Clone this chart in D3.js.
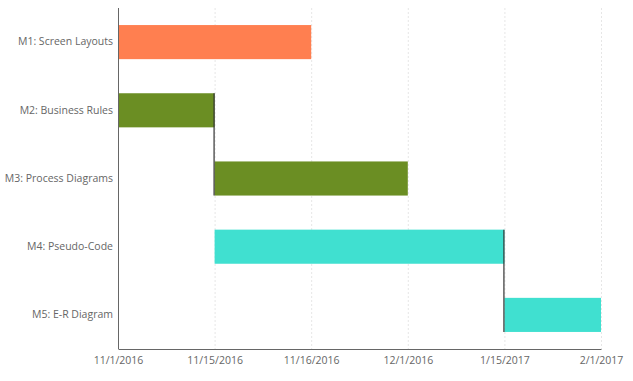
<!DOCTYPE html>
<html>
<head>
<meta charset="utf-8">
<script src="https://cdn.jsdelivr.net/npm/d3@7"></script>
<style>
body { margin: 0; background: #fff; }
text { font-family: "Open Sans", "Noto Sans", sans-serif; }
</style>
</head>
<body>
<div id="gantt"></div>
<script>
// tick labels of the x axis (evenly spaced categories)
var dates = ["11/1/2016", "11/15/2016", "11/16/2016", "12/1/2016", "1/15/2017", "2/1/2017"];
var tasks = ["M1: Screen Layouts", "M2: Business Rules", "M3: Process Diagrams", "M4: Pseudo-Code", "M5: E-R Diagram"];
var starts = ["11/1/2016", "11/1/2016", "11/15/2016", "11/15/2016", "1/15/2017"];
var ends = ["11/16/2016", "11/15/2016", "12/1/2016", "1/15/2017", "2/1/2017"];
var colors = ["#FF7F50", "#6B8E23", "#6B8E23", "#40E0D0", "#40E0D0"];
// dependencies: [from task, to task]
var links = [[1, 2], [3, 4]];

var margin = {top: 8, right: 32, bottom: 32, left: 118},
width = 633 - margin.left - margin.right,
height = 381 - margin.top - margin.bottom;

var svg = d3.select("#gantt")
.append("svg")
.attr("width", width + margin.left + margin.right)
.attr("height", height + margin.top + margin.bottom)
.append("g")
.attr("transform", `translate(${margin.left},${margin.top})`);

var x = d3.scalePoint()
  .domain(dates)
  .range([0, width]);

var y = d3.scaleBand()
  .domain(tasks)
  .range([0, height])
  .paddingInner(0.5)
  .paddingOuter(0.25);

// gridlines
svg.append("g")
.selectAll("line")
.data(dates.slice(1))
.join("line")
  .attr("x1", d => x(d) + 0.5)
  .attr("x2", d => x(d) + 0.5)
  .attr("y1", 0)
  .attr("y2", height)
  .attr("stroke", "#e6e6e6")
  .attr("stroke-dasharray", "2,2");

// bars
var rows = tasks.map((t, i) => ({task: t, start: starts[i], end: ends[i], color: colors[i]}));
svg.append("g")
.selectAll("rect")
.data(rows)
.join("rect")
  .attr("x", d => x(d.start))
  .attr("y", d => y(d.task))
  .attr("width", d => x(d.end) - x(d.start))
  .attr("height", y.bandwidth())
  .attr("fill", d => d.color);

// dependency connectors
svg.append("g")
.selectAll("line")
.data(links)
.join("line")
  .attr("x1", d => x(ends[d[0]]) - 0.5)
  .attr("x2", d => x(ends[d[0]]) - 0.5)
  .attr("y1", d => y(tasks[d[0]]))
  .attr("y2", d => y(tasks[d[1]]) + y.bandwidth())
  .attr("stroke", "#333")
  .attr("stroke-opacity", 0.8)
  .attr("stroke-width", 1.5);

// x axis
var xAxis = svg.append("g")
.attr("transform", `translate(0, ${height})`)
.call(d3.axisBottom(x).tickSize(0).tickPadding(8));
xAxis.select(".domain").attr("stroke", "#666");
xAxis.selectAll("text").attr("fill", "#666").style("font-size", "10.5px");

// y axis
var yAxis = svg.append("g")
.call(d3.axisLeft(y).tickSize(0).tickPadding(5));
yAxis.select(".domain").attr("stroke", "#666").attr("d", `M0.5,0V${height}`);
yAxis.selectAll("text").attr("fill", "#666").style("font-size", "10.5px");
</script>
</body>
</html>
